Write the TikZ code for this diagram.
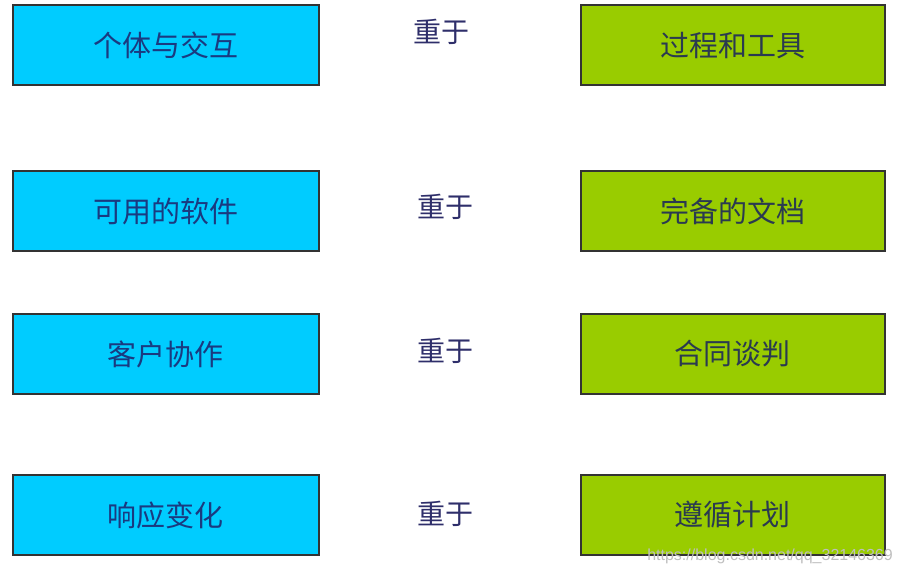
\documentclass[tikz,border=0pt]{standalone}
\usepackage{fontspec}
\newfontfamily\cjk{Noto Sans CJK SC}
\setsansfont{Liberation Sans}
\definecolor{boxblue}{HTML}{00CCFF}
\definecolor{boxgreen}{HTML}{99CC00}
\definecolor{txtblue}{HTML}{1A3A80}
\definecolor{txtgreen}{HTML}{2A3A50}
\definecolor{midtxt}{HTML}{2E2E6A}
\begin{document}
\begin{tikzpicture}[x=1pt,y=-1pt,
  leftbox/.style={draw=black!80,line width=2pt,fill=boxblue,minimum width=306pt,minimum height=80pt,inner sep=0pt,font=\cjk\fontsize{29}{33}\selectfont,text=txtblue},
  rightbox/.style={draw=black!80,line width=2pt,fill=boxgreen,minimum width=304pt,minimum height=80pt,inner sep=0pt,font=\cjk\fontsize{29}{33}\selectfont,text=txtgreen},
  mid/.style={font=\cjk\fontsize{28}{32}\selectfont,text=midtxt,inner sep=0pt},
  wm/.style={font=\sffamily\fontsize{16}{18}\selectfont,text=black!25,inner sep=0pt}]
\useasboundingbox (0,0) rectangle (901,575);
\fill[white] (0,0) rectangle (901,575);
\node[leftbox] (l1) at (165.5,45.5) {个体与交互};
\node[leftbox] (l2) at (165.5,211) {可用的软件};
\node[leftbox] (l3) at (165.5,354) {客户协作};
\node[leftbox] (l4) at (165.5,515) {响应变化};
\node[rightbox] (r1) at (732.5,45.5) {过程和工具};
\node[rightbox] (r2) at (732.5,211) {完备的文档};
\node[rightbox] (r3) at (732.5,354) {合同谈判};
\node[rightbox] (r4) at (732.5,515) {遵循计划};
\node[mid] (m1) at (441,32) {重于};
\node[mid] (m2) at (445,207) {重于};
\node[mid] (m3) at (445,351) {重于};
\node[mid] (m4) at (445,514) {重于};
\node[wm,anchor=east] (wm) at (893,556) {https://blog.csdn.net/qq\_32146369};
\end{tikzpicture}
\end{document}
